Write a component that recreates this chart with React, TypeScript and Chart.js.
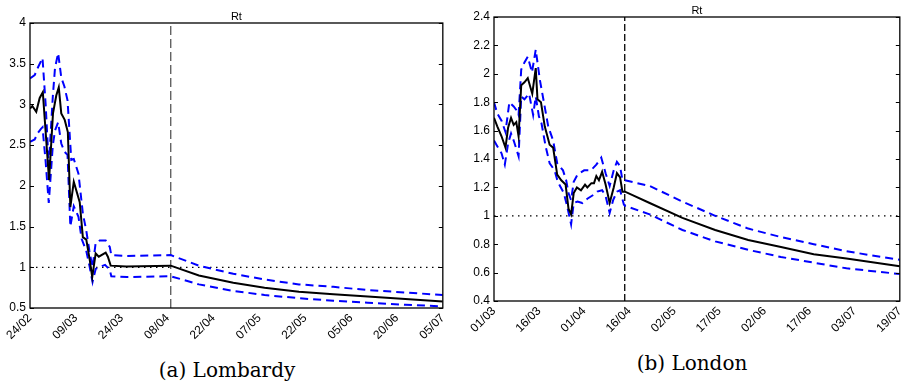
import React, { useEffect, useRef } from "react";
import { Chart, registerables } from "chart.js";

Chart.register(...registerables);

// ---------- Lombardy (day 0 = 24/02) ----------
const LOM_TICK_LABELS = ["24/02", "09/03", "24/03", "08/04", "22/04", "07/05", "22/05", "05/06", "20/06", "05/07"];
const LOM_SPAN = 132;
const LOM_Y_TICKS = [0.5, 1, 1.5, 2, 2.5, 3, 3.5, 4];
const LOM_SPLIT_DAY = 45;
const LOM_MEAN_DAYS = [0, 0.75, 2, 3.1, 4.1, 6.1, 7.35, 8.4, 9.2, 10, 11.1, 12.1, 12.9, 14, 15.9, 16.9, 18, 19.1, 19.9, 21, 22, 24.2, 24.9, 25.8, 30.8, 45, 54, 65, 75, 86, 97, 108, 120, 132];
const LOM_MEAN = [2.95, 2.98, 2.91, 3.08, 3.15, 2.07, 2.89, 3.11, 3.21, 2.89, 2.81, 2.66, 1.74, 2.05, 1.8, 1.37, 1.34, 1.09, 0.88, 1.17, 1.13, 1.18, 1.13, 1.02, 1.01, 1.02, 0.9, 0.81, 0.75, 0.7, 0.67, 0.64, 0.61, 0.58];
const LOM_UP_DAYS = [0, 1.5, 2.5, 4, 5, 6, 7.3, 8, 9, 10, 11, 12, 13.2, 14, 15.5, 16.9, 18, 19, 20, 21, 22.3, 24.2, 25.5, 26, 31, 45, 54, 65, 75, 86, 97, 108, 120, 132];
const LOM_UP = [3.32, 3.36, 3.45, 3.57, 3.0, 2.25, 3.1, 3.45, 3.63, 3.33, 3.22, 3.05, 2.32, 2.33, 2.15, 1.66, 1.45, 1.2, 1.0, 1.3, 1.33, 1.33, 1.25, 1.15, 1.14, 1.15, 1.02, 0.92, 0.85, 0.79, 0.76, 0.72, 0.69, 0.66];
const LOM_LO_DAYS = [0, 1.5, 2.5, 3.5, 4, 5, 6, 7.3, 8, 9, 10, 11, 12, 12.9, 14, 15.5, 16.5, 18, 19, 20, 21, 22, 24, 25.5, 26, 31, 45, 54, 65, 75, 86, 97, 108, 120, 132];
const LOM_LO = [2.54, 2.57, 2.65, 2.7, 2.72, 2.3, 1.79, 2.5, 2.68, 2.78, 2.52, 2.42, 2.38, 1.5, 1.75, 1.62, 1.35, 1.2, 1.02, 0.82, 0.98, 1.0, 1.03, 0.97, 0.89, 0.88, 0.89, 0.79, 0.71, 0.66, 0.62, 0.59, 0.565, 0.54, 0.52];

// ---------- London (day 0 = 01/03) ----------
const LON_TICK_LABELS = ["01/03", "16/03", "01/04", "16/04", "02/05", "17/05", "02/06", "17/06", "03/07", "19/07"];
const LON_SPAN = 140;
const LON_Y_TICKS = [0.4, 0.6, 0.8, 1, 1.2, 1.4, 1.6, 1.8, 2, 2.2, 2.4];
const LON_SPLIT_DAY = 45.1;
const LON_MEAN_DAYS = [0, 1.13, 2.6, 3.96, 4.86, 5.88, 6.79, 7.69, 8.48, 9.39, 10.5, 11.65, 13.2, 14.4, 15.0, 16.2, 17.5, 19.2, 20.4, 21.8, 23.2, 24.7, 25.7, 26.6, 27.5, 28.6, 30.0, 31.4, 32.2, 33.6, 34.5, 35.3, 36.2, 37.3, 38.5, 39.9, 41.3, 42.4, 43.5, 44.3, 45.2, 53.7, 65, 76.3, 87.7, 99, 110.3, 121.6, 140];
const LON_MEAN = [1.69, 1.63, 1.56, 1.48, 1.62, 1.69, 1.64, 1.66, 1.56, 1.92, 1.94, 1.97, 1.86, 2.04, 1.82, 1.8, 1.63, 1.5, 1.48, 1.29, 1.25, 1.22, 1.05, 1.01, 1.16, 1.2, 1.18, 1.22, 1.2, 1.23, 1.23, 1.28, 1.25, 1.31, 1.22, 1.09, 1.2, 1.3, 1.27, 1.17, 1.17, 1.09, 0.985, 0.9, 0.83, 0.78, 0.73, 0.7, 0.645];
const LON_UP_DAYS = [0, 1.13, 2.6, 3.96, 5.3, 6.79, 7.9, 8.48, 9.39, 10.5, 11.65, 13.1, 14.4, 15.8, 17.3, 18.7, 20.4, 21.8, 23.8, 24.9, 25.7, 26.6, 27.5, 28.8, 31.1, 33.4, 35.3, 37.0, 38.5, 39.9, 41.3, 42.4, 43.5, 44.3, 45.2, 53.7, 65, 76.3, 87.7, 99, 110.3, 121.6, 140];
const LON_UP = [1.8, 1.72, 1.67, 1.59, 1.8, 1.77, 1.74, 1.71, 2.03, 2.08, 2.12, 2.01, 2.17, 1.96, 1.79, 1.63, 1.53, 1.37, 1.32, 1.25, 1.16, 1.11, 1.24, 1.29, 1.32, 1.32, 1.36, 1.41, 1.3, 1.21, 1.32, 1.38, 1.35, 1.25, 1.25, 1.21, 1.1, 1.0, 0.91, 0.85, 0.8, 0.75, 0.69];
const LON_LO_DAYS = [0, 1.13, 2.6, 3.73, 4.86, 5.88, 6.79, 8.48, 9.39, 10.5, 12.1, 13.5, 14.4, 15.5, 16.4, 17.8, 19.2, 20.9, 22.0, 24.1, 25.2, 26.6, 27.5, 28.8, 30.5, 32.2, 34.5, 35.6, 37.3, 38.5, 39.9, 41.1, 42.4, 43.5, 44.8, 45.2, 53.7, 65, 76.3, 87.7, 99, 110.3, 121.6, 140];
const LON_LO = [1.53, 1.49, 1.44, 1.36, 1.51, 1.58, 1.53, 1.42, 1.84, 1.82, 1.86, 1.71, 1.84, 1.7, 1.65, 1.49, 1.37, 1.32, 1.24, 1.16, 1.07, 0.94, 1.09, 1.1, 1.09, 1.12, 1.15, 1.17, 1.18, 1.14, 1.02, 1.11, 1.17, 1.18, 1.08, 1.07, 1.01, 0.9, 0.82, 0.76, 0.71, 0.67, 0.63, 0.59];

const pts = (xs: number[], ys: number[]) => xs.map((x, i) => ({ x, y: ys[i] }));

type PanelProps = {
  left: number;
  width: number;
  height: number;
  padTop: number;
  padRight: number;
  yWidth: number;
  xHeight: number;
  labels: string[];
  span: number;
  yTicks: number[];
  splitDay: number;
  splitColor: string;
  splitDash: number[];
  meanDays: number[];
  mean: number[];
  upDays: number[];
  up: number[];
  loDays: number[];
  lo: number[];
  title: string;
};

function Panel(p: PanelProps) {
  const ref = useRef<HTMLCanvasElement | null>(null);
  useEffect(() => {
    const canvas = ref.current;
    if (!canvas) return;
    const yMin = p.yTicks[0];
    const yMax = p.yTicks[p.yTicks.length - 1];
    const tickFont = { family: '"Liberation Sans", Arial, sans-serif', size: 12 };
    const boxPlugin = {
      id: "matlabBox",
      afterDatasetsDraw(chart: any) {
        const { ctx, chartArea } = chart;
        const { left, right, top, bottom } = chartArea;
        ctx.save();
        ctx.strokeStyle = "#000";
        ctx.lineWidth = 1.3;
        ctx.setLineDash([]);
        ctx.strokeRect(left, top, right - left, bottom - top);
        const ys = chart.scales.y;
        ctx.lineWidth = 1;
        ys.ticks.forEach((t: any) => {
          const py = Math.round(ys.getPixelForValue(t.value)) + 0.5;
          ctx.beginPath();
          ctx.moveTo(left, py);
          ctx.lineTo(left + 4, py);
          ctx.moveTo(right - 4, py);
          ctx.lineTo(right, py);
          ctx.stroke();
        });
        ctx.fillStyle = "#000";
        ctx.font = '11px "Liberation Sans", Arial, sans-serif';
        ctx.textAlign = "center";
        ctx.textBaseline = "alphabetic";
        ctx.fillText(p.title, (left + right) / 2, top - 3);
        ctx.restore();
      },
    };
    const chart = new Chart(canvas, {
      type: "line",
      data: {
        datasets: [
          {
            data: pts(p.meanDays, p.mean),
            borderColor: "#000",
            borderWidth: 2,
            pointRadius: 0,
            tension: 0,
            order: 0,
          },
          {
            data: pts(p.upDays, p.up),
            borderColor: "#0000ff",
            borderWidth: 2,
            borderDash: [8, 5],
            pointRadius: 0,
            tension: 0,
            order: 1,
          },
          {
            data: pts(p.loDays, p.lo),
            borderColor: "#0000ff",
            borderWidth: 2,
            borderDash: [8, 5],
            pointRadius: 0,
            tension: 0,
            order: 1,
          },
          {
            data: pts([0, p.span], [1, 1]),
            borderColor: "#000",
            borderWidth: 1.2,
            borderDash: [1.5, 4.5],
            pointRadius: 0,
            order: 3,
          },
          {
            data: pts([p.splitDay, p.splitDay], [yMin, yMax]),
            borderColor: p.splitColor,
            borderWidth: 1.3,
            borderDash: p.splitDash,
            pointRadius: 0,
            order: 2,
          },
        ],
      },
      options: {
        animation: false,
        responsive: false,
        maintainAspectRatio: false,
        parsing: false,
        layout: { padding: { top: p.padTop, right: p.padRight, left: 0, bottom: 0 } },
        plugins: { legend: { display: false }, tooltip: { enabled: false }, title: { display: false } },
        scales: {
          x: {
            type: "linear",
            min: 0,
            max: p.span,
            grid: { display: false, drawTicks: false },
            border: { display: false },
            afterBuildTicks: (s: any) => {
              s.ticks = p.labels.map((_, i) => ({ value: (p.span * i) / (p.labels.length - 1) }));
            },
            afterFit: (s: any) => {
              s.height = p.xHeight;
            },
            ticks: {
              autoSkip: false,
              maxRotation: 45,
              minRotation: 45,
              color: "#000",
              padding: 3,
              font: tickFont,
              callback: (_v: any, i: number) => p.labels[i],
            },
          },
          y: {
            type: "linear",
            min: yMin,
            max: yMax,
            grid: { display: false, drawTicks: false },
            border: { display: false },
            afterBuildTicks: (s: any) => {
              s.ticks = p.yTicks.map((v) => ({ value: v }));
            },
            afterFit: (s: any) => {
              s.width = p.yWidth;
            },
            ticks: {
              color: "#000",
              padding: 4,
              font: tickFont,
              callback: (v: any) => String(Math.round(Number(v) * 100) / 100),
            },
          },
        },
      },
      plugins: [boxPlugin],
    } as any);
    return () => chart.destroy();
  }, []);
  return (
    <canvas
      ref={ref}
      width={p.width}
      height={p.height}
      style={{ position: "absolute", left: p.left, top: 0, width: p.width, height: p.height }}
    />
  );
}

export default function App() {
  const caption: React.CSSProperties = {
    position: "absolute",
    fontFamily: '"DejaVu Serif", serif',
    fontSize: 20,
    lineHeight: "20px",
    whiteSpace: "nowrap",
    transform: "translateX(-50%)",
    color: "#000",
  };
  return (
    <div style={{ position: "absolute", left: 0, top: 0, width: 913, height: 386, background: "#fff", overflow: "hidden" }}>
      <Panel
        left={0}
        width={456}
        height={345}
        padTop={23}
        padRight={13}
        yWidth={30}
        xHeight={37}
        labels={LOM_TICK_LABELS}
        span={LOM_SPAN}
        yTicks={LOM_Y_TICKS}
        splitDay={LOM_SPLIT_DAY}
        splitColor="#555"
        splitDash={[9, 4]}
        meanDays={LOM_MEAN_DAYS}
        mean={LOM_MEAN}
        upDays={LOM_UP_DAYS}
        up={LOM_UP}
        loDays={LOM_LO_DAYS}
        lo={LOM_LO}
        title="Rt"
      />
      <Panel
        left={456}
        width={457}
        height={345}
        padTop={17}
        padRight={7}
        yWidth={38}
        xHeight={44}
        labels={LON_TICK_LABELS}
        span={LON_SPAN}
        yTicks={LON_Y_TICKS}
        splitDay={LON_SPLIT_DAY}
        splitColor="#000"
        splitDash={[7, 3]}
        meanDays={LON_MEAN_DAYS}
        mean={LON_MEAN}
        upDays={LON_UP_DAYS}
        up={LON_UP}
        loDays={LON_LO_DAYS}
        lo={LON_LO}
        title="Rt"
      />
      <div style={{ ...caption, left: 227, top: 360 }}>(a) Lombardy</div>
      <div style={{ ...caption, left: 692, top: 353 }}>(b) London</div>
    </div>
  );
}
